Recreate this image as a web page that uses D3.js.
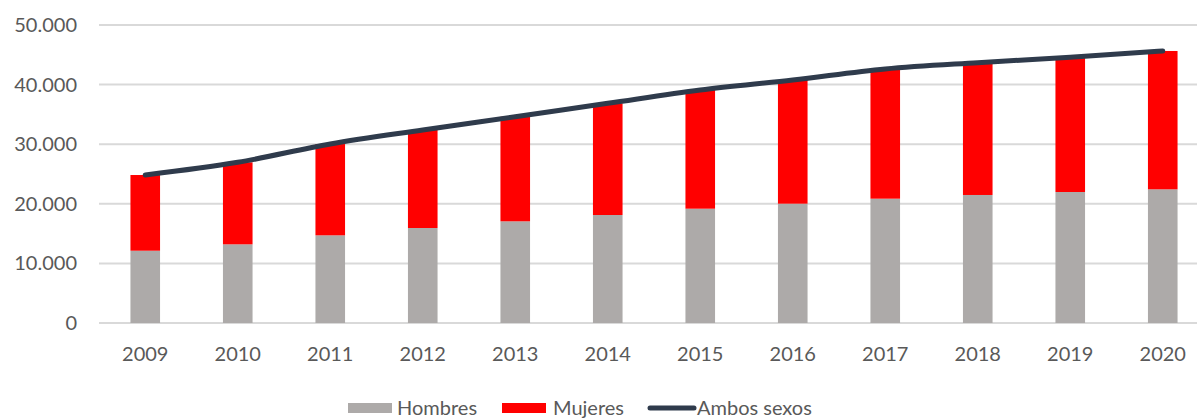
<!DOCTYPE html>
<html>
<head>
<meta charset="utf-8">
<script src="https://cdn.jsdelivr.net/npm/d3@7"></script>
<style>
  body { margin: 0; background: #fff; }
  text { font-family: Lato, "Open Sans", sans-serif; fill: #595959; }
</style>
</head>
<body>
<script>
var years = ["2009","2010","2011","2012","2013","2014","2015","2016","2017","2018","2019","2020"];
var hombres = [12130,13200,14710,15940,17060,18120,19180,20020,20860,21480,21980,22430];
var mujeres = [12700,13760,15320,16440,17550,18740,19910,20750,21760,22200,22600,23210];
var ambos   = [24830,26960,30030,32380,34610,36860,39090,40770,42620,43680,44580,45640];
var yTicks = [0,10000,20000,30000,40000,50000];

var colors = {hombres:"#ADAAA9", mujeres:"#FF0000", ambos:"#2F3B4C", grid:"#D9D9D9"};

var W = 1197, H = 418;
var svg = d3.select("body").append("svg").attr("width",W).attr("height",H);

var x = d3.scaleBand().domain(years).range([99,1209]).paddingInner(0.68).paddingOuter(0.34);
var y = d3.scaleLinear().domain([0,50000]).range([323,25]);

var fmt = function(v){ return d3.format(",")(v).replace(/,/g,"."); };

// gridlines
svg.append("g").selectAll("line").data(yTicks).enter().append("line")
  .attr("x1",99).attr("x2",W).attr("y1",d=>y(d)).attr("y2",d=>y(d))
  .attr("stroke",colors.grid).attr("stroke-width",2);

// y labels
svg.append("g").selectAll("text").data(yTicks).enter().append("text")
  .attr("x",77).attr("y",d=>y(d)+7).attr("text-anchor","end")
  .style("font-size","20px").text(fmt);

// stacked bars
var rows = years.map((yr,i)=>({year:yr, hombres:hombres[i], mujeres:mujeres[i]}));
var stack = d3.stack().keys(["hombres","mujeres"])(rows);
svg.append("g").selectAll("g").data(stack).enter().append("g")
  .attr("fill",d=>colors[d.key])
  .selectAll("rect").data(d=>d).enter().append("rect")
  .attr("x",d=>x(d.data.year)).attr("width",x.bandwidth())
  .attr("y",d=>y(d[1])).attr("height",d=>y(d[0])-y(d[1]));

// total line
var line = d3.line().curve(d3.curveMonotoneX)
  .x((d,i)=>x(years[i])+x.bandwidth()/2).y(d=>y(d));
svg.append("path").datum(ambos).attr("d",line)
  .attr("fill","none").attr("stroke",colors.ambos).attr("stroke-width",5)
  .attr("stroke-linecap","round");

// x labels
svg.append("g").selectAll("text").data(years).enter().append("text")
  .attr("x",d=>x(d)+x.bandwidth()/2).attr("y",361).attr("text-anchor","middle")
  .style("font-size","20px").text(d=>d);

// legend
var legend = [
  {label:"Hombres", key:"hombres", x:348, tx:397},
  {label:"Mujeres", key:"mujeres", x:502, tx:553},
  {label:"Ambos sexos", key:"ambos", x:648, tx:697}
];
legend.forEach(function(l){
  if(l.key=="ambos"){
    svg.append("line").attr("x1",l.x+2).attr("x2",l.x+46).attr("y1",408).attr("y2",408)
      .attr("stroke",colors.ambos).attr("stroke-width",5).attr("stroke-linecap","round");
  } else {
    svg.append("rect").attr("x",l.x).attr("y",403).attr("width",44).attr("height",10).attr("fill",colors[l.key]);
  }
  svg.append("text").attr("x",l.tx).attr("y",415).style("font-size","20px").text(l.label);
});
</script>
</body>
</html>
